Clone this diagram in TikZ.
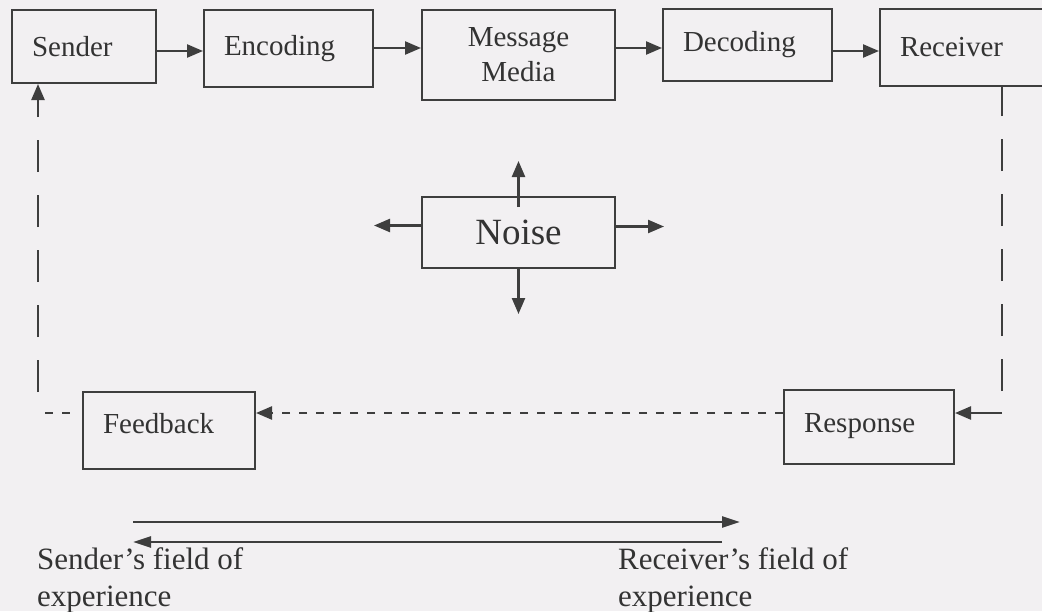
\documentclass[tikz,border=0pt]{standalone}
\usepackage{fontspec}
\setmainfont{Liberation Serif}
\usetikzlibrary{arrows.meta}
\definecolor{paper}{HTML}{F2F0F2}
\definecolor{ink}{HTML}{3E3E3E}
\definecolor{txt}{HTML}{333333}
\tikzset{
  box/.style={draw=ink, line width=2pt, rectangle, inner ysep=0pt, text=txt,
    font=\fontsize{29}{32}\selectfont},
  flow/.style={box, inner xsep=20pt, align=left},
  arr/.style={draw=ink, line width=2.4pt, -{Triangle[length=16pt,width=13pt]}},
  arrthin/.style={draw=ink, line width=2.6pt, -{Triangle[length=18pt,width=11pt]}},
  loopdash/.style={draw=ink, line width=2.4pt, dash pattern=on 32pt off 23pt},
  shortdash/.style={draw=ink, line width=2.2pt, dash pattern=on 8pt off 9pt},
  lbl/.style={text=txt, inner sep=0pt, align=left, font=\fontsize{31}{37}\selectfont}
}
\begin{document}
\begin{tikzpicture}[x=1pt, y=-1pt]
  \fill[paper] (0,0) rectangle (1042,611);
  \useasboundingbox (0,0) rectangle (1042,611);
  \clip (0,0) rectangle (1042,611);

  % top row of the communication chain
  \node[flow, text width=104pt, minimum height=73pt] (sender)   at (84,46.5)  {Sender};
  \node[flow, text width=129pt, minimum height=77pt] (encoding) at (288.5,48.5) {Encoding};
  \node[box, minimum width=193pt, minimum height=90pt, align=center,
        font=\fontsize{29}{35}\selectfont] (message) at (518.5,55) {Message\\Media};
  \node[flow, text width=129pt, minimum height=72pt] (decoding) at (747.5,45) {Decoding};
  \node[flow, text width=130pt, minimum height=77pt] (receiver) at (965,47.5) {Receiver};

  % noise source
  \node[box, minimum width=193pt, minimum height=71pt, font=\fontsize{37}{40}\selectfont] (noise) at (518.5,232.5) {Noise};

  % feedback loop boxes (labels sit a little above the middle)
  \node[flow, text width=132pt, minimum height=77pt, text depth=14pt] (feedback) at (169,430.5) {Feedback};
  \node[flow, text width=130pt, minimum height=74pt, text depth=8pt] (response) at (869,427) {Response};

  % row heights for the chain arrows
  \coordinate (ra) at (0,51);
  \coordinate (rb) at (0,48);
  \coordinate (rc) at (0,51);
  \draw[arr] (sender.east |- ra) -- (encoding.west |- ra);
  \draw[arr] (encoding.east |- rb) -- (message.west |- rb);
  \draw[arr] (message.east |- rb) -- (decoding.west |- rb);
  \draw[arr] (decoding.east |- rc) -- (receiver.west |- rc);

  % noise spreading in four directions
  \draw[arr] ([yshift=-11pt]noise.north) -- ([yshift=35pt]noise.north);
  \draw[arr] (noise.south) -- ([yshift=-45pt]noise.south);
  \draw[arr] ([yshift=7pt]noise.west) -- ++(-47,0);
  \draw[arr] ([yshift=6pt]noise.east) -- ++(48,0);

  % receiver -> response -> feedback -> sender
  \coordinate (rv) at (1002,391);
  \draw[loopdash] (rv) -- (rv |- receiver.south);
  \coordinate (rr) at (1002,413);
  \draw[arr] (rr) -- (rr -| response.east);
  \coordinate (fy) at (0,413);
  \draw[shortdash, arr] (response.west |- fy) -- (feedback.east |- fy);
  \coordinate (fs) at (45,413);
  \coordinate (fe) at (72,413);
  \draw[shortdash] (fs) -- (fe);
  \coordinate (lv) at (38,392);
  \draw[loopdash, -{Triangle[length=16pt,width=13pt]}] (lv) -- (lv |- sender.south);

  % fields of experience
  \coordinate (ta) at (133,522);
  \coordinate (tb) at (740,522);
  \draw[arrthin] (ta) -- (tb);
  \coordinate (ba) at (722,542);
  \coordinate (bb) at (133,542);
  \draw[arrthin] (ba) -- (bb);
  \node[lbl, anchor=north west] (sfield) at (37,547) {Sender's field of\\experience};
  \node[lbl, anchor=north west] (rfield) at (618,547) {Receiver's field of\\experience};
\end{tikzpicture}
\end{document}
